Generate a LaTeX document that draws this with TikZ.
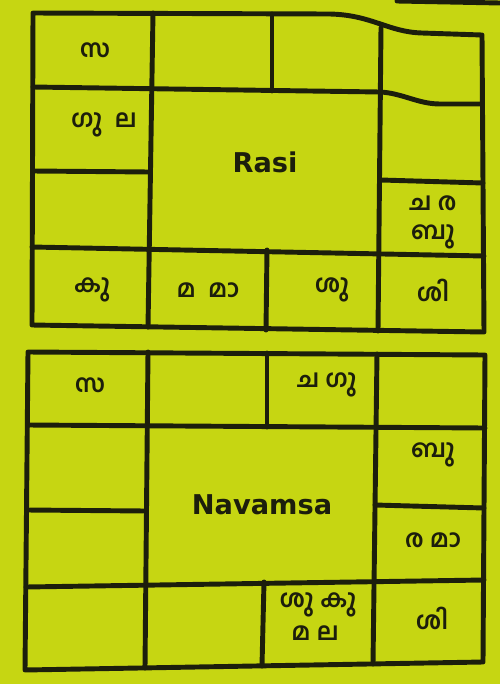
\documentclass[tikz,border=0pt]{standalone}
\usepackage{fontspec}
\setsansfont{DejaVu Sans}
\newfontfamily\mlfont[Script=Malayalam]{Hind Kochi}
\usepackage{tikz}
\usetikzlibrary{calc, positioning}
\definecolor{paper}{RGB}{198,214,18}
\definecolor{ink}{RGB}{28,30,12}

\tikzset{
  grid/.style={ink, line width=2.8pt, line join=round, line cap=round},
  graha/.style={ink, font=\mlfont\bfseries\fontsize{14}{16}\selectfont, align=center, inner sep=1pt},
  title/.style={ink, font=\sffamily\bfseries\fontsize{15.5}{18}\selectfont}
}

\begin{document}
\begin{tikzpicture}[x=0.02cm, y=-0.02cm]
\fill[paper] (0,0) rectangle (500,684);
\useasboundingbox (0,0) rectangle (500,684);

% stray edge at top right
\draw[grid] (397,1) -- (500,3);

% Rasi chart
\draw[grid] (33,13) -- (330,14) .. controls (372,15) and (388,32) .. (422,33) -- (482,35)
  -- (484,332) -- (32,325) -- cycle;
\draw[grid] (33,87) -- (380,92) .. controls (402,93) and (418,104) .. (440,104) -- (482,104);
\foreach \x in {272} {
  \draw[grid] (\x,14) -- (\x,91);
}
\draw[grid] (153,13) -- (148,327);
\draw[grid] (381,28) -- (378,331);
\draw[grid] (33,171) -- (150,172);
\draw[grid] (381,180) -- (483,183);
\draw[grid] (32,247) -- (484,256);
\draw[grid] (267,250) -- (266,330);

\node[graha] (r-sa) at (95,50) {സ};
\node[graha] (r-gula) at (104,125) {ഗു\ \ ല};
\node[title] (rasi) at (265,162) {Rasi};
\node[graha] (r-cara) at (433,203) {ച\ ര};
\node[graha] (r-bu) at (433,237) {ബു};
\node[graha] (r-ku) at (92,290) {കു};
\node[graha] (r-mama) at (208,290) {മ\ \ മാ};
\node[graha] (r-su) at (332,290) {ശു};
\node[graha] (r-si) at (433,290) {ശി};

% Navamsa chart
\draw[grid] (28,352) -- (485,355) -- (483,662) -- (25,670) -- cycle;
\draw[grid] (28,425) -- (485,428);
\draw[grid] (148,352) -- (145,668);
\draw[grid] (267,353) -- (267,427);
\draw[grid] (377,354) -- (373,664);
\draw[grid] (27,510) -- (146,511);
\draw[grid] (375,505) -- (484,508);
\draw[grid] (26,587) -- (484,580);
\draw[grid] (264,582) -- (262,666);

\node[graha] (n-sa) at (90,385) {സ};
\node[graha] (n-cagu) at (327,385) {ച\ ഗു};
\node[title] (navamsa) at (262,505) {Navamsa};
\node[graha] (n-bu) at (433,455) {ബു};
\node[graha] (n-rama) at (433,540) {ര\ മാ};
\node[graha] (n-suku) at (318,605) {ശു\ കു};
\node[graha] (n-mala) at (315,633) {മ\ ല};
\node[graha] (n-si) at (432,618) {ശി};
\end{tikzpicture}
\end{document}
